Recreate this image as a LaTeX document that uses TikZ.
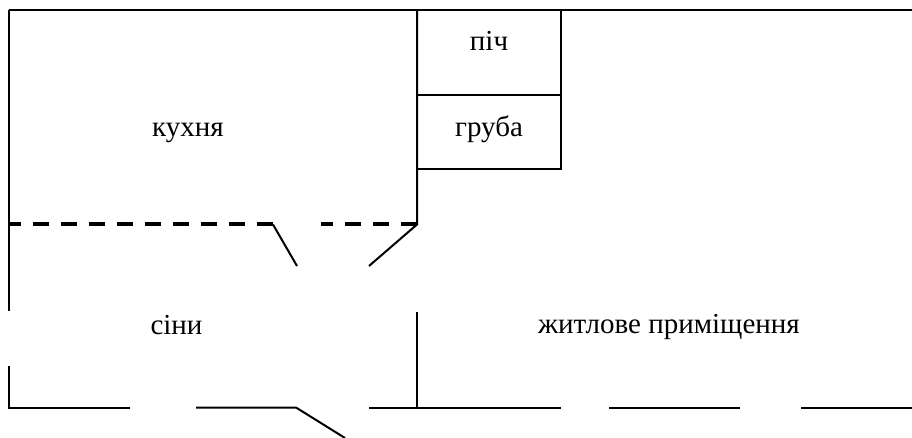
\documentclass[tikz,border=0pt]{standalone}
\usepackage{fontspec}
\setmainfont{Liberation Serif}
\usetikzlibrary{calc}
\usetikzlibrary{positioning}

\begin{document}
\begin{tikzpicture}[%
  x=1pt, y=-1pt,
  wall/.style={line width=2pt},
  partition/.style={line width=4pt, dash pattern=on 16.5pt off 11.5pt},
  room/.style={anchor=base, inner sep=0pt, font=\fontsize{29}{34}\selectfont},
]
  \useasboundingbox (0,0) rectangle (912,438);

  \coordinate (v0) at (8.5,10);
  \coordinate (v1) at (417,10);
  \coordinate (v2) at (912,10);
  \coordinate (v3) at (561,10);
  \coordinate (v4) at (417,95);
  \coordinate (v5) at (561,95);
  \coordinate (v6) at (417,169.5);
  \coordinate (v7) at (561,169.5);
  \coordinate (v8) at (417,224.5);
  \coordinate (v9) at (8.5,224.5);
  \coordinate (v10) at (273,224.5);
  \coordinate (v11) at (297,266);
  \coordinate (v12) at (369,266);
  \coordinate (v13) at (8.5,311);
  \coordinate (v14) at (8.5,366);
  \coordinate (v15) at (8.5,407.5);
  \coordinate (v16) at (130,407.5);
  \coordinate (v17) at (196,407.5);
  \coordinate (v18) at (296,407.5);
  \coordinate (v19) at (345,438);
  \coordinate (v20) at (369,407.5);
  \coordinate (v21) at (561,407.5);
  \coordinate (v22) at (609,407.5);
  \coordinate (v23) at (740,407.5);
  \coordinate (v24) at (801,407.5);
  \coordinate (v25) at (912,407.5);
  \coordinate (v26) at (417,312);
  \coordinate (v27) at (417,407.5);
  \coordinate (v28) at (321,224.5);

  \draw[wall] (v0) -- (v2);
  \draw[wall] (v0) -- (v13);
  \draw[wall] (v14) -- (v15) -- (v16);
  \draw[wall] (v17) -- (v18) -- (v19);
  \draw[wall] (v20) -- (v21);
  \draw[wall] (v22) -- (v23);
  \draw[wall] (v24) -- (v25);
  \draw[wall] (v1) -- (v8) -- (v12);
  \draw[wall] (v26) -- (v27);
  \draw[wall] (v3) -- (v7) -- (v6);
  \draw[wall] (v4) -- (v5);
  \draw[wall] (v10) -- (v11);

  \draw[partition, dash phase=4pt] (v9) -- (v10);
  \draw[partition] (v8) -- (v28);

  \node[room] (kitchen) at (188,137) {кухня};
  \node[room] (oven) at (489,50.5) {піч};
  \node[room] (stove) at (489,136.5) {груба};
  \node[room] (hall) at (176.5,334) {сіни};
  \node[room] (living) at (669,333.5) {житлове приміщення};

\end{tikzpicture}
\end{document}
